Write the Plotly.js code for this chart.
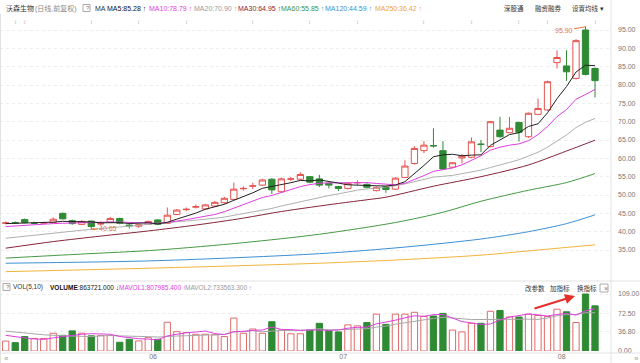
<!DOCTYPE html>
<html><head><meta charset="utf-8">
<script src="https://cdn.plot.ly/plotly-3.0.1.min.js"></script>
<style>html,body{margin:0;padding:0;background:#fff;}#chart{width:640px;height:363px;}</style>
</head><body><div id="chart"></div>
<script>
// ---- data ----
const openP  = [42.3,42.5,43.3,42.3,42.4,42.5,45.0,43.0,42.0,42.9,42.1,42.6,43.6,41.8,41.5,42.0,43.2,42.3,44.7,46.0,46.7,46.2,47.0,47.9,48.8,51.7,52.4,52.7,54.3,50.9,54.3,54.3,55.0,54.4,53.2,52.3,51.8,53.3,52.9,51.2,52.3,51.6,54.8,58.6,62.1,63.5,62.1,57.6,60.1,60.3,63.9,63.2,67.7,67.0,69.8,65.9,72.0,73.2,86.1,85.2,81.8,95.0,84.5];
const highP  = [42.8,42.8,43.6,42.7,42.7,43.9,45.2,43.3,43.1,43.0,42.8,44.0,43.8,42.1,42.1,43.0,43.4,46.6,46.2,46.6,47.4,47.6,48.4,49.5,53.4,52.4,53.4,54.4,54.6,54.8,54.9,56.2,55.2,55.5,53.4,52.5,53.5,54.0,53.2,52.4,52.5,54.9,59.5,63.3,64.7,68.2,64.7,59.0,61.2,65.7,65.0,70.2,71.3,71.3,70.0,72.5,76.3,81.2,89.4,89.5,92.5,95.9,84.8];
const lowP   = [42.0,42.1,42.3,42.0,42.1,42.4,43.3,41.9,41.8,40.65,41.6,42.4,42.0,40.9,41.0,41.8,41.8,42.2,44.5,45.6,46.3,46.0,46.8,47.6,48.5,51.2,51.6,52.5,50.3,50.6,53.8,54.0,53.2,52.2,51.8,51.1,51.5,52.7,51.8,51.0,50.6,51.4,54.6,58.3,61.4,62.9,56.8,57.3,58.6,60.0,61.7,63.0,65.6,66.8,64.6,65.6,71.8,73.0,84.5,81.1,81.5,82.6,76.6];
const closeP = [42.4,42.4,42.5,42.3,42.4,43.4,43.5,42.2,42.8,41.4,42.2,43.6,42.3,41.6,41.9,42.8,42.0,44.5,45.9,46.1,46.8,47.3,48.0,49.1,51.6,51.8,52.5,54.1,51.4,54.4,54.4,55.6,53.5,52.7,52.7,51.8,53.2,53.4,52.1,52.1,51.5,54.6,57.9,62.7,63.6,63.4,57.1,58.8,60.6,64.5,63.8,70.0,65.9,68.2,67.1,72.3,73.6,80.9,87.5,83.6,92.1,82.9,81.2];
// volume in units of 10,000 shares
const volume = [19,16,27.6,24,24,34,30,38.5,34,29,29.5,29.5,16.7,22.4,19.2,25.6,22.4,55,37,35,32,32,31,27.6,63,34,42,34,56,40,33,33,40,53,38.5,36.5,50,48,54.5,70.5,51,70.5,70.5,74,66,67,72,40,36.5,53,53,76,77.5,65,65,70.5,68,66,80,75,54.5,109,86.37];

const ma5  = [42.2,42.3,42.4,42.4,42.40,42.60,42.82,42.76,42.86,42.66,42.42,42.44,42.46,42.22,42.32,42.44,42.12,42.56,43.42,44.26,45.06,46.12,46.82,47.46,48.56,49.56,50.60,51.82,52.28,52.84,53.36,53.98,53.86,54.12,53.78,53.26,52.78,52.76,52.64,52.52,52.46,52.74,53.64,55.76,58.06,60.44,60.94,61.12,60.70,60.88,60.96,63.54,64.96,66.48,67.00,68.70,69.42,72.42,76.28,79.58,83.54,85.40,85.28];
const ma10 = [41.4,41.6,41.8,41.9,42.0,42.2,42.3,42.4,42.5,42.53,42.51,42.63,42.61,42.54,42.49,42.43,42.28,42.51,42.82,43.29,43.75,44.12,44.69,45.44,46.41,47.31,48.36,49.32,49.87,50.70,51.46,52.29,52.84,53.20,53.31,53.31,53.38,53.31,53.38,53.15,52.86,52.76,53.20,54.20,55.29,56.45,56.84,57.38,58.23,59.47,60.70,62.24,63.04,63.59,63.94,64.83,66.48,68.69,71.38,73.29,76.12,77.41,78.79];
const ma20 = [38.2,38.5,38.8,39.1,39.4,39.6,39.9,40.1,40.4,40.6,40.9,41.1,41.3,41.5,41.7,42.0,42.2,42.4,42.7,42.91,43.13,43.38,43.65,43.99,44.45,44.87,45.32,45.92,46.35,47.00,47.61,48.21,48.77,49.32,49.86,50.31,50.87,51.32,51.63,51.93,52.16,52.53,53.02,53.70,54.30,54.88,55.11,55.35,55.81,56.31,56.78,57.50,58.12,58.90,59.62,60.64,61.66,63.04,64.81,66.38,68.41,69.83,70.90];
const ma30Idx  = [0,5,10,15,20,25,29,35,38,40,45,50,55,59,62];
const ma30Val  = [35.5,37.3,38.8,40.2,41.8,43.7,45.5,47.7,48.7,49.4,52.4,55.0,58.2,62.0,64.95];
const ma60Idx  = [0,8,16,25,33,41,46,50,55,59,62];
const ma60Val  = [32.8,33.9,35.0,37.0,39.3,42.5,45.3,48.3,51.3,53.4,55.85];
const ma120Idx = [0,16,33,42,50,55,59,62];
const ma120Val = [31.4,32.1,34.0,35.8,38.0,40.0,42.2,44.59];
const ma250Idx = [0,16,33,42,50,56,62];
const ma250Val = [29.1,30.1,31.4,32.4,33.6,35.0,36.42];

const mavol5  = [30,27,25,23,22.1,25.1,27.9,30.1,32.1,33.1,32.2,32.1,27.7,25.4,23.5,22.7,21.3,28.9,31.8,35.0,36.3,38.2,33.4,31.5,37.1,37.5,39.5,40.1,45.8,41.2,41.0,39.2,40.4,39.8,39.5,40.2,43.6,45.2,45.5,51.9,54.8,58.9,63.4,67.3,66.4,69.6,69.9,63.8,56.3,53.7,50.9,51.7,59.2,64.9,67.3,70.8,69.2,66.9,69.9,71.9,68.7,76.9,80.80];
const mavol10 = [38,36,34,32.5,31,30,29,28.5,28,27.6,28.7,30.0,28.9,28.8,28.3,27.4,26.7,28.3,28.6,29.2,29.5,29.7,31.2,31.7,36.1,36.9,38.9,36.8,38.7,39.2,39.3,39.4,40.3,42.8,40.4,40.6,41.4,42.8,42.7,45.7,47.5,51.3,54.3,56.4,59.2,62.2,64.4,63.6,61.8,60.1,60.3,60.8,61.5,60.6,60.5,60.9,60.5,63.1,67.4,69.6,69.8,73.1,73.36];

const monthTickIdx = [15.5, 35.5, 58.5];
const monthLabels  = ['06','07','08'];
const priceTicks   = [35,40,45,50,55,60,65,70,75,80,85,90,95];
const volTicks     = [0, 36.8, 72.5, 109];
const volTickText  = ['0.00','36.80','72.50','109.00'];
const eventIdx     = [1,2,9,14,19,26,32,37,44,49,54,57,62];
const highIdx = 61, lowIdx = 9;

// ---- drawing ----
const idx = closeP.map((_, i) => i);
const FONT = 'Liberation Sans, Noto Sans CJK SC, sans-serif';
const UP = '#e5534f', DOWN = '#2f8a34';
const W = 640, H = 363;
const px = x => x / W, py = y => 1 - y / H;

const traces = [];
const maLine = (x, y, color, yaxis, shape) => ({
  type: 'scatter', mode: 'lines', x, y, xaxis: 'x', yaxis,
  line: {color, width: 1, shape: shape || 'linear', smoothing: 0.8}, hoverinfo: 'skip'
});
traces.push(maLine(ma250Idx, ma250Val, '#f2b53c', 'y', 'spline'));
traces.push(maLine(ma120Idx, ma120Val, '#3d8fd4', 'y', 'spline'));
traces.push(maLine(ma60Idx, ma60Val, '#459a45', 'y', 'spline'));
traces.push(maLine(ma30Idx, ma30Val, '#85253a', 'y', 'spline'));
traces.push(maLine(idx, ma20, '#b0b0b0', 'y'));
traces.push({
  type: 'candlestick', x: idx, open: openP, high: highP, low: lowP, close: closeP,
  xaxis: 'x', yaxis: 'y', whiskerwidth: 0,
  increasing: {line: {color: UP, width: 1}, fillcolor: '#ffffff'},
  decreasing: {line: {color: DOWN, width: 1}, fillcolor: DOWN},
  hoverinfo: 'skip'
});
traces.push(maLine(idx, ma10, '#e03ee0', 'y'));
traces.push(maLine(idx, ma5, '#222222', 'y'));

const isUp = closeP.map((c, i) => c >= openP[i]);
traces.push({
  type: 'bar', x: idx, y: volume, xaxis: 'x', yaxis: 'y2', width: 0.66,
  marker: {color: isUp.map(u => u ? '#ffffff' : DOWN),
           line: {color: isUp.map(u => u ? '#e06a6a' : DOWN), width: 1}},
  hoverinfo: 'skip'
});
traces.push(maLine(idx, mavol10, '#a8a8a8', 'y2'));
traces.push(maLine(idx, mavol5, '#e03ee0', 'y2'));

const txt = (text, x, y, color, size, extra) => Object.assign({
  text, xref: 'paper', yref: 'paper', x: px(x), y: py(y), xanchor: 'left', yanchor: 'middle',
  showarrow: false, font: {family: FONT, size: size || 7, color: color || '#333'}
}, extra || {});

const ann = [];
// header row
ann.push(txt('沃森生物', 4, 8, '#333', 7));
ann.push(txt('(日线,前复权)', 33, 8, '#888', 7));
ann.push(txt('?', 84.3, 8, '#777', 6));
ann.push(txt('MA', 93, 8, '#333', 7));
ann.push(txt('MA5:85.28 ↑', 105, 8, '#111', 7));
ann.push(txt('MA10:78.79 ↑', 147, 8, '#e03ee0', 7));
ann.push(txt('MA20:70.90 ↑', 192, 8, '#9a9a9a', 7));
ann.push(txt('MA30:64.95 ↑', 236, 8, '#85253a', 7));
ann.push(txt('MA60:55.85 ↑', 279, 8, '#3f933f', 7));
ann.push(txt('MA120:44.59 ↑', 323, 8, '#3d8fd4', 7));
ann.push(txt('MA250:36.42 ↑', 373, 8, '#eea532', 7));
ann.push(txt('深股通', 502, 8, '#333', 6.5));
ann.push(txt('融资融券', 533, 8, '#333', 6.5));
ann.push(txt('设置均线 ▾', 570, 8, '#333', 6.5));
// event markers (second row)
eventIdx.forEach(i => ann.push({text: '↕', xref: 'x', yref: 'paper', x: i, y: py(17),
  showarrow: false, font: {family: FONT, size: 6, color: '#aaa'}}));
// high / low labels
ann.push({text: highP[highIdx].toFixed(2), xref: 'x', yref: 'y', x: highIdx, y: highP[highIdx],
  showarrow: true, arrowhead: 0, arrowwidth: 1, arrowcolor: '#e0773a', ax: -22, ay: 4, standoff: 0,
  font: {family: FONT, size: 7, color: '#e0773a'}});
ann.push({text: lowP[lowIdx].toFixed(2), xref: 'x', yref: 'y', x: lowIdx, y: lowP[lowIdx],
  showarrow: true, arrowhead: 2, arrowsize: 0.6, arrowwidth: 1, arrowcolor: '#e0773a', ax: 17, ay: -1, standoff: 0,
  font: {family: FONT, size: 7, color: '#e0773a'}});
// volume header
ann.push(txt('?', 4.3, 287, '#777', 6));
ann.push(txt('VOL(5,10)', 11, 287, '#333', 6.5));
ann.push(txt('<b>VOLUME</b>:863721.000 ↓', 48, 287, '#111', 6.5));
ann.push(txt('MAVOL1:807985.400 ↑', 117, 287, '#e03ee0', 6.5));
ann.push(txt('MAVOL2:733563.300 ↑', 183, 287, '#999', 6.5));
ann.push(txt('改参数', 523, 288, '#333', 6.5));
ann.push(txt('加指标', 548, 288, '#333', 6.5));
ann.push(txt('换指标', 575, 288, '#333', 6.5));
ann.push(txt('×', 601.5, 288, '#777', 7));
ann.push(txt('«', 2, 358, '#999', 8));
ann.push(txt('»', 632, 358, '#999', 8));
// red arrow
ann.push({text: '', xref: 'paper', yref: 'paper', x: px(575), y: py(296), showarrow: true,
  arrowhead: 2, arrowsize: 1, arrowwidth: 2, arrowcolor: '#e5302a', ax: -42, ay: 13, standoff: 0});

const lineShape = (x0, y0, x1, y1, color) => ({type: 'line', xref: 'paper', yref: 'paper',
  x0: px(x0), y0: py(y0), x1: px(x1), y1: py(y1), line: {color: color || '#e2e2e2', width: 1}});
const shapes = [
  lineShape(611, 0, 611, 363),
  lineShape(0, 281, 640, 281),
  lineShape(0, 353, 640, 353),
  lineShape(0.5, 14, 0.5, 363),
  {type: 'rect', xref: 'paper', yref: 'paper', x0: px(83), x1: px(90), y0: py(11.5), y1: py(4.5), line: {color: '#aaa', width: 1}},
  {type: 'rect', xref: 'paper', yref: 'paper', x0: px(3), x1: px(10), y0: py(290.5), y1: py(283.5), line: {color: '#aaa', width: 1}},
  {type: 'rect', xref: 'paper', yref: 'paper', x0: px(600), x1: px(608), y0: py(292), y1: py(284), line: {color: '#aaa', width: 1}}
];

const layout = {
  width: W, height: H, margin: {l: 0, r: 0, t: 0, b: 0},
  paper_bgcolor: '#fff', plot_bgcolor: '#fff', showlegend: false, hovermode: false,
  boxgap: 0.34, boxgroupgap: 0, bargap: 0.3,
  font: {family: FONT, size: 7, color: '#666'},
  xaxis: {domain: [0, 611 / W], range: [-0.6, 63.68], anchor: 'y2', tickvals: monthTickIdx, ticktext: monthLabels,
    ticks: '', showgrid: false, zeroline: false, showline: false, rangeslider: {visible: false},
    tickfont: {family: FONT, size: 7, color: '#777'}, fixedrange: true},
  yaxis: {domain: [py(281), py(20)], range: [26.55, 97.73], side: 'right', anchor: 'x',
    tickvals: priceTicks, tickformat: '.2f', ticks: '', ticklabelstandoff: 6,
    showgrid: true, gridcolor: '#ededed', griddash: 'dot', zeroline: false, showline: false,
    tickfont: {family: FONT, size: 7, color: '#777'}, fixedrange: true},
  yaxis2: {domain: [py(351), py(281)], range: [0, 133.9], side: 'right', anchor: 'x',
    tickvals: volTicks, ticktext: volTickText, ticks: '', ticklabelstandoff: 6,
    showgrid: true, gridcolor: '#ededed', griddash: 'dot', zeroline: false, showline: false,
    tickfont: {family: FONT, size: 7, color: '#777'}, fixedrange: true},
  annotations: ann, shapes: shapes
};

Plotly.newPlot('chart', traces, layout, {staticPlot: true, displayModeBar: false});
</script></body></html>
